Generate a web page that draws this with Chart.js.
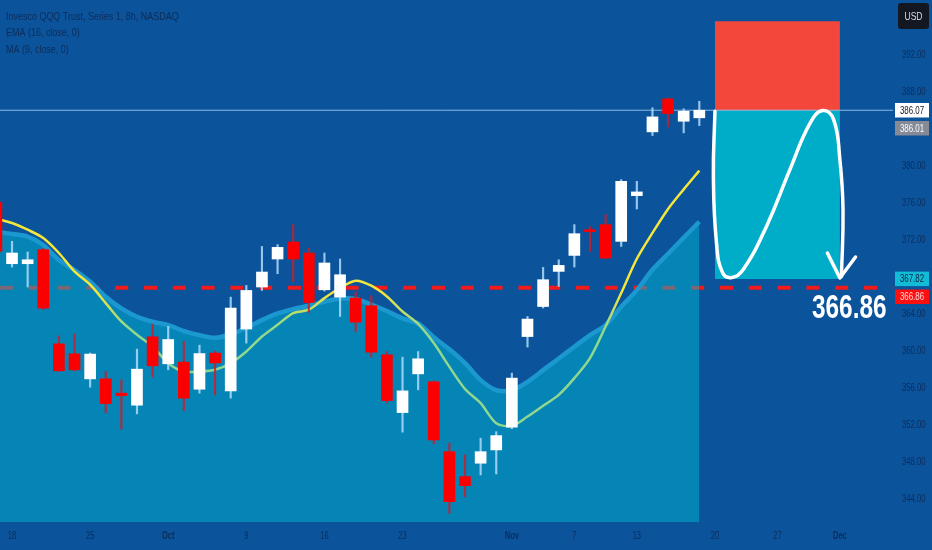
<!DOCTYPE html>
<html>
<head>
<meta charset="utf-8">
<script src="https://cdn.jsdelivr.net/npm/chart.js@4.4.0/dist/chart.umd.min.js"></script>
<style>
  html, body { margin: 0; padding: 0; background: #0b539b; overflow: hidden; }
  #wrap { width: 932px; height: 550px; }
</style>
</head>
<body>
<div id="wrap"><canvas id="chart" width="932" height="550"></canvas></div>
<script>
// 8h bars of QQQ, one per session, Sep 15 .. Nov 17
const dates = ['Sep 15', 'Sep 18', 'Sep 19', 'Sep 20', 'Sep 21', 'Sep 22', 'Sep 25', 'Sep 26', 'Sep 27', 'Sep 28',
  'Sep 29', 'Oct 2', 'Oct 3', 'Oct 4', 'Oct 5', 'Oct 6', 'Oct 9', 'Oct 10', 'Oct 11', 'Oct 12',
  'Oct 13', 'Oct 16', 'Oct 17', 'Oct 18', 'Oct 19', 'Oct 20', 'Oct 23', 'Oct 24', 'Oct 25', 'Oct 26',
  'Oct 27', 'Oct 30', 'Oct 31', 'Nov 1', 'Nov 2', 'Nov 3', 'Nov 6', 'Nov 7', 'Nov 8', 'Nov 9',
  'Nov 10', 'Nov 13', 'Nov 14', 'Nov 15', 'Nov 16', 'Nov 17'];
const opens = [376.1, 369.46, 369.46, 370.98, 360.79, 359.71, 357.0, 357.0, 355.45, 354.15,
  361.55, 358.63, 358.81, 355.88, 359.79, 355.7, 362.39, 366.94, 369.97, 371.81,
  370.62, 366.64, 365.85, 365.74, 364.91, 359.6, 353.35, 357.54, 356.68, 349.12,
  346.42, 347.87, 349.31, 351.77, 361.58, 364.83, 368.63, 370.36, 373.14, 373.69,
  371.88, 376.83, 383.73, 387.3, 384.88, 385.25];
const highs = [376.6, 371.88, 370.73, 371.1, 361.66, 361.88, 359.8, 357.79, 356.89, 360.22,
  362.93, 362.67, 361.04, 360.65, 360.0, 365.85, 367.11, 371.33, 371.52, 373.69,
  371.16, 370.62, 369.97, 366.4, 366.0, 359.96, 359.35, 359.96, 356.8, 350.03,
  348.77, 350.58, 351.29, 357.62, 363.75, 369.06, 369.89, 373.69, 373.5, 374.77,
  378.56, 378.38, 386.33, 387.4, 386.22, 387.04];
const lows = [370.5, 369.1, 366.94, 364.5, 357.8, 357.84, 356.1, 353.35, 351.55, 353.21,
  357.19, 357.98, 353.57, 355.45, 355.27, 354.91, 360.87, 366.57, 368.38, 367.54,
  364.18, 366.5, 363.75, 362.13, 359.35, 354.4, 351.23, 355.81, 349.96, 342.45,
  344.25, 346.6, 346.71, 351.6, 360.44, 364.66, 367.0, 369.1, 370.79, 369.97,
  371.33, 375.39, 383.33, 384.27, 383.62, 384.41];
const closes = [370.8, 370.62, 369.89, 364.66, 357.87, 357.98, 359.68, 354.33, 355.19, 358.05,
  358.41, 361.26, 354.91, 359.74, 358.73, 364.66, 366.57, 368.56, 371.23, 369.97,
  365.27, 369.54, 368.27, 363.14, 359.89, 354.65, 355.7, 359.17, 350.39, 343.71,
  345.44, 349.12, 350.86, 357.08, 363.47, 367.73, 369.28, 372.71, 372.93, 370.08,
  378.38, 377.23, 385.35, 385.71, 385.96, 386.07];

// indicators
const ma9 = [374.34, 373.87, 373.14, 372.24, 370.62, 368.63, 367.19, 365.2, 363.21, 361.77,
  360.5, 358.7, 357.79, 357.79, 357.98, 358.7, 359.96, 361.58, 362.85, 364.12,
  364.48, 365.74, 366.83, 367.62, 367.08, 365.92, 364.29, 362.96, 360.87, 358.3,
  355.9, 354.37, 352.2, 351.91, 352.92, 354.08, 355.27, 357.08, 359.24, 362.67,
  366.29, 370.0, 372.79, 375.39, 377.51, 379.54];
const ema16 = [372.93, 372.68, 372.39, 371.49, 369.86, 368.78, 367.51, 365.89, 364.62, 363.72,
  363.18, 362.82, 362.17, 361.73, 361.44, 361.8, 362.53, 363.36, 364.08, 364.55,
  364.91, 365.34, 365.7, 365.64, 365.05, 364.34, 363.54, 362.99, 361.5, 360.2,
  358.7, 356.86, 355.78, 355.78, 356.68, 357.94, 359.2, 360.47, 361.73, 362.82,
  364.8, 366.6, 368.81, 370.54, 372.28, 374.0];

// time axis labels (bar index -> text)
const tickIdx = [1, 6, 11, 16, 21, 26, 33, 37, 41, 46, 50, 54];
const tickText = ['18', '25', 'Oct', '9', '16', '23', 'Nov', '7', '13', '20', '27', 'Dec'];
const monthTicks = ['Oct', 'Nov', 'Dec'];
const priceTicks = [344, 348, 352, 356, 360, 364, 368, 372, 376, 380, 384, 388, 392, 396];

// visible range
const xMin = 0.23, xMax = 57.4;
const yMin = 341.51, yMax = 398.0;

// levels and the short position drawing
const lastPrice = 386.07;
const prevPrice = 386.01;
const supportLevel = 366.86;
const stopLevel = 395.71;
const targetLevel = 367.82;
const boxFrom = 46, boxTo = 54;
const curveX = [46.0, 45.9, 46.1, 46.5, 47.1, 47.8, 49.3, 50.8, 52.1, 52.9, 53.6, 54.0, 54.2, 54.1];
const curveY = [385.96, 378.92, 371.7, 368.45, 367.97, 368.81, 373.5, 379.64, 384.7, 386.04, 385.06, 380.73, 375.31, 368.08];
const arrowX = [53.2, 54.0, 55.0];
const arrowY = [370.62, 367.91, 370.19];

const legendLines = ['Invesco QQQ Trust, Series 1, 8h, NASDAQ', 'EMA (16, close, 0)', 'MA (9, close, 0)'];

const axisColor = '#0f2c59';
const sans = '"Liberation Sans", Arial, sans-serif';

function pts(xs, ys) {
  return xs.map((x, k) => ({ x: x, y: ys[k] }));
}

const idx = dates.map((d, k) => k);
const bodies = idx.map(k => ({ x: k, y: [opens[k], closes[k]] }));
const wicks = idx.map(k => ({ x: k, y: [lows[k], highs[k]] }));
const isDown = k => closes[k] < opens[k];

// MA colour goes from green (low) to yellow (high)
function maColor(context) {
  const chart = context.chart;
  const { ctx, chartArea, scales } = chart;
  if (!chartArea) return '#f3e63c';
  const g = ctx.createLinearGradient(0, scales.y.getPixelForValue(366.5), 0, scales.y.getPixelForValue(362.5));
  g.addColorStop(0, '#f4e63a');
  g.addColorStop(1, '#8fd88e');
  return g;
}

// the original uses a tall condensed face, squeeze a normal one
function narrowText(ctx, text, x, y, font, sx, align) {
  ctx.save();
  ctx.translate(x, y);
  ctx.scale(sx, 1);
  ctx.font = font;
  ctx.textAlign = align;
  ctx.textBaseline = 'middle';
  ctx.fillText(text, 0, 0);
  ctx.restore();
}

function priceLabel(ctx, yc, text, bg, fg) {
  const h = 14.5;
  ctx.fillStyle = bg;
  ctx.fillRect(895, yc - h / 2, 34, h);
  ctx.fillStyle = fg;
  narrowText(ctx, text, 912, yc + 0.5, '11px ' + sans, 0.72, 'center');
}

const overlay = {
  id: 'overlay',
  afterDraw(chart) {
    const { ctx, scales: { x, y } } = chart;
    ctx.save();

    // axis labels
    ctx.fillStyle = axisColor;
    priceTicks.forEach(v => {
      narrowText(ctx, v.toFixed(2), 902, y.getPixelForValue(v), '11px ' + sans, 0.7, 'left');
    });
    tickIdx.forEach((v, k) => {
      const bold = monthTicks.includes(tickText[k]);
      narrowText(ctx, tickText[k], x.getPixelForValue(v), 536, (bold ? 'bold ' : '') + '10.5px ' + sans, 0.72, 'center');
    });

    // legend
    legendLines.forEach((t, k) => narrowText(ctx, t, 6, 16.5 + k * 16.7, '11.5px ' + sans, 0.78, 'left'));

    // big level text
    ctx.fillStyle = '#ffffff';
    narrowText(ctx, supportLevel.toFixed(2), x.getPixelForValue(54.6), y.getPixelForValue(supportLevel) + 21,
      'bold 33px ' + sans, 0.74, 'center');

    // price labels on the axis
    const yl = y.getPixelForValue(lastPrice);
    priceLabel(ctx, yl, lastPrice.toFixed(2), '#ffffff', '#131722');
    priceLabel(ctx, yl + 18, prevPrice.toFixed(2), '#858a96', '#ffffff');
    const yt = y.getPixelForValue(targetLevel);
    priceLabel(ctx, yt, targetLevel.toFixed(2), '#13bcd6', '#0d2440');
    priceLabel(ctx, y.getPixelForValue(supportLevel) + 9, supportLevel.toFixed(2), '#ff1010', '#ffd6d6');

    // currency button
    ctx.fillStyle = '#131722';
    ctx.beginPath();
    ctx.roundRect(898, 3, 31, 26, 3);
    ctx.fill();
    ctx.fillStyle = '#d8dce6';
    narrowText(ctx, 'USD', 913.5, 16.5, '11px ' + sans, 0.78, 'center');

    ctx.restore();
  }
};

new Chart(document.getElementById('chart'), {
  type: 'bar',
  data: {
    datasets: [
      {
        type: 'line', label: 'arrow', data: pts(arrowX, arrowY),
        borderColor: '#ffffff', borderWidth: 3.5, pointRadius: 0, tension: 0,
        borderCapStyle: 'round', borderJoinStyle: 'round', order: 0
      },
      {
        type: 'line', label: 'curve', data: pts(curveX, curveY),
        borderColor: '#ffffff', borderWidth: 3.5, pointRadius: 0, tension: 0.45,
        borderCapStyle: 'round', order: 1
      },
      {
        label: 'body', data: bodies, grouped: false, barThickness: 11, minBarLength: 2,
        backgroundColor: c => isDown(c.dataIndex) ? '#fa0000' : '#ffffff',
        borderWidth: 0, order: 3
      },
      {
        label: 'wick', data: wicks, grouped: false, barThickness: 1.5,
        backgroundColor: c => isDown(c.dataIndex) ? 'rgba(200,30,45,0.85)' : 'rgba(175,220,250,0.85)',
        borderWidth: 0, order: 4
      },
      {
        type: 'line', label: 'MA (9, close, 0)', data: pts(idx, ma9),
        borderColor: maColor, borderWidth: 2.5, pointRadius: 0, tension: 0.3, order: 5
      },
      {
        type: 'line', label: 'last', data: pts([xMin, xMax], [lastPrice, lastPrice]),
        borderColor: 'rgba(160,205,240,0.85)', borderWidth: 1, pointRadius: 0, order: 6
      },
      {
        type: 'line', label: 'stop', data: pts([boxFrom, boxTo], [lastPrice, lastPrice]),
        borderWidth: 0, pointRadius: 0, fill: { value: stopLevel },
        backgroundColor: '#f4473b', order: 7
      },
      {
        type: 'line', label: 'target', data: pts([boxFrom, boxTo], [lastPrice, lastPrice]),
        borderWidth: 0, pointRadius: 0, fill: { value: targetLevel },
        backgroundColor: '#00adc9', order: 7
      },
      {
        type: 'line', label: 'EMA (16, close, 0)', data: pts(idx, ema16),
        borderColor: 'rgba(28,152,208,1)', borderWidth: 4.5, pointRadius: 0, tension: 0.3,
        fill: 'start', backgroundColor: 'rgba(0,181,209,0.5)', order: 8
      },
      {
        type: 'line', label: 'level', data: pts([xMin, xMax], [supportLevel, supportLevel]),
        borderColor: '#f21a1a', borderWidth: 4, borderDash: [13, 15.8], pointRadius: 0, order: 9
      }
    ]
  },
  options: {
    responsive: false,
    animation: false,
    layout: { padding: 0 },
    plugins: { legend: { display: false }, tooltip: { enabled: false } },
    scales: {
      x: {
        type: 'linear', min: xMin, max: xMax, offset: false,
        grid: { display: false, drawTicks: false },
        border: { display: false },
        afterBuildTicks: s => { s.ticks = tickIdx.map(v => ({ value: v })); },
        afterFit: s => { s.height = 28; s.paddingLeft = 0; s.paddingRight = 0; },
        ticks: { display: false }
      },
      y: {
        type: 'linear', position: 'right', min: yMin, max: yMax,
        grid: { display: false, drawTicks: false },
        border: { display: false },
        afterBuildTicks: s => { s.ticks = priceTicks.map(v => ({ value: v })); },
        afterFit: s => { s.width = 39; s.paddingTop = 0; s.paddingBottom = 0; },
        ticks: { display: false }
      }
    }
  },
  plugins: [overlay]
});
</script>
</body>
</html>
